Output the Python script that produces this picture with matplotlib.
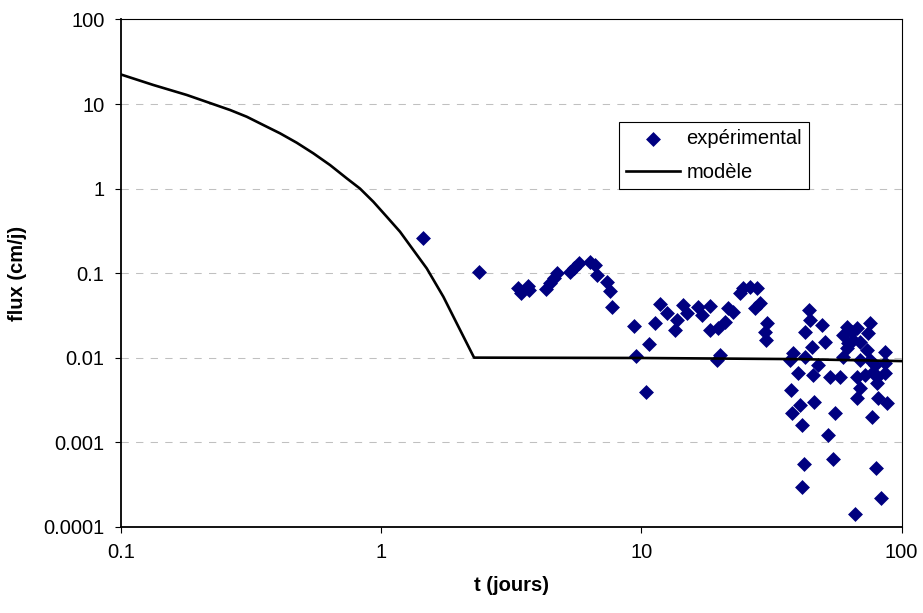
import matplotlib
matplotlib.use("Agg")
import matplotlib.pyplot as plt
from matplotlib.ticker import FixedLocator, FixedFormatter, NullLocator

# ---- data ----
t_exp = [1.453, 2.379, 3.37, 3.44, 3.66, 3.71, 4.30, 4.46, 4.62, 4.76,
         5.32, 5.51, 5.78, 6.35, 6.64, 6.78, 7.36, 7.58, 7.74, 9.38,
         9.52, 10.43, 10.73, 11.29, 11.80, 12.52, 13.48, 13.68, 14.50, 14.94,
         16.56, 17.06, 18.37, 18.37, 19.76, 20.06, 19.49, 20.96, 21.59, 22.57,
         23.94, 24.65, 26.16, 27.76, 28.58, 27.35, 30.33, 29.87, 30.13,
         44.1, 44.5, 42.56, 49.3, 50.8, 45.2, 38.4, 37.27, 42.56, 47.86,
         40.11, 45.8, 53.1, 57.98, 37.6, 40.7, 46.2, 37.83, 55.5, 61.5,
         59.7, 65.2, 61.5, 59.7, 69.2, 75.6, 74.5, 73.5, 69.2, 79.0,
         86.4, 86.4, 86.4, 80.2, 72.3, 67.2, 80.2, 69.2, 67.2, 81.4,
         87.7, 76.8, 42.3, 54.4, 41.5, 66.2, 79.7, 83.1, 52.3, 41.3,
         64.3, 67.2, 62.4, 75.6, 77.8]
flux_exp = [0.2575, 0.1019, 0.0659, 0.0585, 0.0702, 0.0629, 0.0641, 0.0755, 0.0865, 0.1008,
            0.1036, 0.1137, 0.1302, 0.136, 0.1244, 0.0947, 0.0789, 0.0617, 0.0399, 0.0236,
            0.01042, 0.00387, 0.01445, 0.0254, 0.0430, 0.0334, 0.0212, 0.0278, 0.0418, 0.0334,
            0.0399, 0.0318, 0.0407, 0.0212, 0.0222, 0.01071, 0.00934, 0.0265, 0.0382, 0.0348,
            0.0575, 0.0659, 0.0689, 0.0659, 0.0438, 0.0382, 0.0254, 0.0202, 0.0161,
            0.0365, 0.0278, 0.0202, 0.0243, 0.0154, 0.01343, 0.01122, 0.00934, 0.01022, 0.00815,
            0.0065, 0.00621, 0.00593, 0.00593, 0.00412, 0.00274, 0.0030, 0.00219, 0.00219, 0.0231,
            0.01846, 0.0161, 0.01285, 0.01022, 0.0154, 0.0254, 0.0193, 0.01227, 0.00934, 0.00815,
            0.01172, 0.00854, 0.0065, 0.00593, 0.00621, 0.00593, 0.00495, 0.00432, 0.00329, 0.00329,
            0.00287, 0.00199, 0.000549, 0.000629, 0.000291, 0.000141, 0.000489, 0.000216, 0.00121, 0.00159,
            0.0202, 0.0222, 0.01472, 0.00934, 0.00679]

t_model = [0.1, 0.1334, 0.1793, 0.2630, 0.3049, 0.3531, 0.4093, 0.4745, 0.5495,
           0.6370, 0.7385, 0.830, 0.9342, 1.052, 1.183, 1.331, 1.498, 1.736,
           1.954, 2.277, 10, 40, 100]
flux_model = [22.4, 16.8, 12.8, 8.5, 7.073, 5.642, 4.501, 3.483, 2.610,
              1.897, 1.320, 1.0, 0.698, 0.4638, 0.3083, 0.1872, 0.1137, 0.0524,
              0.0254, 0.0100, 0.0099, 0.0096, 0.0091]

x_ticks = [0.1, 1, 10, 100]
x_tick_labels = ["0.1", "1", "10", "100"]
y_ticks = [0.0001, 0.001, 0.01, 0.1, 1, 10, 100]
y_tick_labels = ["0.0001", "0.001", "0.01", "0.1", "1", "10", "100"]

plt.rcParams['font.family'] = ['Liberation Sans', 'DejaVu Sans']
FS = 14.5

fig = plt.figure(figsize=(9.23, 6.13), dpi=100)
ax = fig.add_axes([0.1308, 0.1408, 0.9769 - 0.1308, 0.9682 - 0.1408])
ax.set_xscale('log')
ax.set_yscale('log')
ax.set_xlim(0.1, 100)
ax.set_ylim(0.0001, 100)

for yv in y_ticks[1:-1]:
    ax.axhline(yv, color='#c0c0c0', lw=0.75, linestyle=(0, (7, 7)), zorder=0)

ax.scatter(t_exp, flux_exp, marker='D', s=7.6**2, color='#000080',
           linewidths=0, zorder=3, label='expérimental')
ax.plot(t_model, flux_model, color='black', lw=1.9, zorder=4, label='modèle')

ax.xaxis.set_major_locator(FixedLocator(x_ticks))
ax.xaxis.set_major_formatter(FixedFormatter(x_tick_labels))
ax.xaxis.set_minor_locator(NullLocator())
ax.yaxis.set_major_locator(FixedLocator(y_ticks))
ax.yaxis.set_major_formatter(FixedFormatter(y_tick_labels))
ax.yaxis.set_minor_locator(NullLocator())
ax.tick_params(axis='both', direction='out', length=4.2, width=0.8,
               labelsize=FS, pad=7.5, colors='black')

for side in ['left', 'bottom']:
    ax.spines[side].set_linewidth(1.3)
for side in ['top', 'right']:
    ax.spines[side].set_linewidth(0.8)

ax.set_xlabel('t (jours)', fontsize=FS, fontweight='bold', labelpad=10)
ax.set_ylabel('flux (cm/j)', fontsize=FS, fontweight='bold', labelpad=12)

leg = ax.legend(loc='upper left', bbox_to_anchor=(619 / 923, 1 - 122 / 613),
                bbox_transform=fig.transFigure, fontsize=FS, frameon=True,
                fancybox=False, edgecolor='black', framealpha=1,
                handlelength=2.7, handletextpad=0.3, borderpad=0.35,
                labelspacing=0.73, borderaxespad=0)
leg.get_frame().set_linewidth(0.8)

fig.savefig('out.png', dpi=100)
